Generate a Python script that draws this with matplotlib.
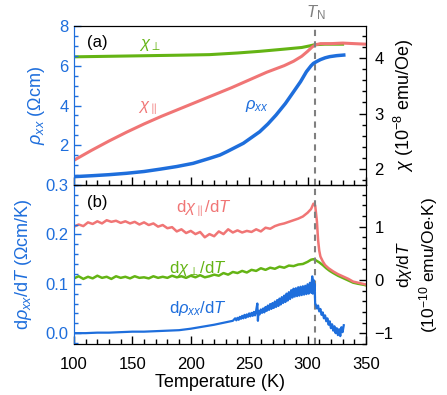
import matplotlib
matplotlib.use("Agg")
import matplotlib.pyplot as plt
from matplotlib.ticker import MultipleLocator

plt.rcParams['font.family'] = ['Liberation Sans', 'DejaVu Sans']
plt.rcParams['mathtext.fontset'] = 'custom'
plt.rcParams['mathtext.rm'] = 'Liberation Sans'
plt.rcParams['mathtext.it'] = 'Liberation Sans:italic'
plt.rcParams['font.size'] = 12

BLUE = '#1e6edc'
RED = '#f07575'
GREEN = '#64b414'
GRAY = '#808080'
T_N = 306
LABEL_SIZE = 13

# panel (a): resistivity (left axis) and susceptibility (right axis)
rho_T = [100, 116, 130, 145, 160, 174, 188, 202, 216, 225, 231, 245, 259, 266, 273, 281, 288, 294, 299, 303, 305, 308, 311, 315, 319, 325, 331]
rho = [0.42, 0.47, 0.52, 0.59, 0.68, 0.80, 0.93, 1.09, 1.34, 1.51, 1.68, 2.10, 2.68, 3.07, 3.52, 4.10, 4.69, 5.20, 5.70, 6.00, 6.12, 6.22, 6.31, 6.40, 6.46, 6.51, 6.54]

chi_perp_T = [100, 130, 160, 190, 216, 240, 259, 280, 295, 302, 306, 315, 330]
chi_perp = [4.03, 4.04, 4.05, 4.06, 4.07, 4.10, 4.13, 4.17, 4.20, 4.23, 4.25, 4.26, 4.26]

chi_par_T = [100, 115, 130, 145, 160, 175, 190, 205, 220, 235, 250, 265, 280, 288, 295, 300, 304, 307, 311, 315, 320, 330, 340, 350]
chi_par = [2.15, 2.33, 2.50, 2.66, 2.81, 2.95, 3.08, 3.21, 3.34, 3.47, 3.61, 3.75, 3.87, 3.95, 4.04, 4.13, 4.21, 4.25, 4.27, 4.27, 4.27, 4.28, 4.27, 4.26]

# panel (b): derivatives
dchi_par_T = [100, 104, 108, 112, 116, 120, 124, 128, 132, 136, 140, 144, 148, 152, 156, 160, 164, 168,
              172, 176, 180, 184, 188, 192, 196, 200, 204, 208, 212, 216, 220, 224, 228, 232, 236, 240,
              244, 248, 252, 256, 260, 264, 268, 272, 276, 280, 284, 288, 292, 296, 300, 303, 305, 306.5,
              308, 309, 310, 311, 313, 315, 318, 322, 326, 331, 335, 339, 343, 348, 350]
dchi_par = [1.00, 1.04, 1.01, 1.08, 1.05, 1.10, 1.06, 1.12, 1.09, 1.11, 1.07, 1.10, 1.06, 1.09, 1.04, 1.08, 1.03, 1.06,
            1.00, 1.03, 0.97, 0.99, 0.91, 0.95, 0.88, 0.92, 0.86, 0.90, 0.80, 0.86, 0.82, 0.91, 0.86, 0.95, 0.89, 0.93,
            0.89, 0.92, 0.90, 0.95, 0.91, 0.98, 0.96, 1.01, 1.04, 1.06, 1.09, 1.12, 1.15, 1.19, 1.26, 1.33, 1.43, 1.40,
            1.10, 0.75, 0.55, 0.44, 0.35, 0.28, 0.22, 0.16, 0.11, 0.06, 0.02, -0.03, -0.05, -0.075, -0.085]

dchi_perp_T = [100, 104, 108, 112, 116, 120, 124, 128, 132, 136, 140, 144, 148, 152, 156, 160, 164, 168,
               172, 176, 180, 184, 188, 192, 196, 200, 204, 208, 212, 216, 220, 224, 228, 232, 236, 240,
               244, 248, 252, 256, 260, 264, 268, 272, 276, 280, 284, 288, 292, 296, 300, 303, 305, 307,
               310, 313, 316, 319, 322, 326, 331, 335, 339, 343, 348, 350]
dchi_perp = [0.03, 0.07, 0.02, 0.06, 0.03, 0.08, 0.04, 0.06, 0.02, 0.07, 0.04, 0.06, 0.03, 0.07, 0.04, 0.05, 0.03, 0.07,
             0.04, 0.06, 0.04, 0.08, 0.05, 0.07, 0.04, 0.08, 0.05, 0.09, 0.05, 0.07, 0.10, 0.08, 0.13, 0.10, 0.15, 0.13,
             0.17, 0.14, 0.19, 0.17, 0.22, 0.19, 0.23, 0.21, 0.25, 0.23, 0.27, 0.26, 0.29, 0.30, 0.34, 0.38, 0.39, 0.37,
             0.33, 0.28, 0.22, 0.17, 0.13, 0.08, 0.03, -0.01, -0.05, -0.07, -0.09, -0.10]

drho_T = [100, 110, 120, 130, 140, 150, 160, 170, 180, 190, 200, 210, 220, 230, 236,
          238, 239, 240, 241, 242, 243, 244, 245, 246, 247, 248, 249, 250, 251, 252, 253, 254, 255, 256, 257, 257.5,
          258, 259, 260, 261, 262, 263, 264, 265, 266, 267, 268, 269, 270, 271, 272, 273, 274, 275, 276, 277,
          278, 279, 280, 281, 282, 283, 284, 285, 286, 287, 288, 289, 290, 291, 292, 293, 294, 295, 296, 297,
          298, 299, 300, 301, 302, 303, 304, 304.5, 305, 305.5, 306, 306.5, 307, 308, 309, 310, 311, 312, 313,
          314, 315, 316, 317, 318, 319, 320, 321, 322, 323, 324, 325, 326, 327, 328, 329, 330, 331]
drho = [0.000, 0.000, 0.001, 0.001, 0.002, 0.003, 0.003, 0.004, 0.005, 0.006, 0.009, 0.013, 0.017, 0.022, 0.025,
        0.030, 0.026, 0.031, 0.027, 0.033, 0.029, 0.035, 0.030, 0.037, 0.031, 0.038, 0.033, 0.040, 0.034, 0.041, 0.035, 0.043, 0.036, 0.046, 0.060, 0.025,
        0.045, 0.038, 0.048, 0.041, 0.050, 0.042, 0.053, 0.045, 0.056, 0.047, 0.059, 0.049, 0.061, 0.051, 0.064, 0.053, 0.067, 0.055, 0.070, 0.058,
        0.073, 0.061, 0.076, 0.063, 0.080, 0.066, 0.083, 0.069, 0.087, 0.072, 0.090, 0.074, 0.091, 0.075, 0.093, 0.076, 0.094, 0.077, 0.095, 0.078,
        0.096, 0.079, 0.099, 0.080, 0.102, 0.082, 0.115, 0.080, 0.108, 0.085, 0.100, 0.060, 0.058, 0.050, 0.056, 0.044, 0.049, 0.037, 0.042,
        0.030, 0.036, 0.024, 0.030, 0.017, 0.024, 0.010, 0.018, 0.005, 0.014, 0.000, 0.010, -0.004, 0.008, -0.006, 0.012, 0.002, 0.016]

fig = plt.figure(figsize=(4.47, 3.95), dpi=100)
ax_a = fig.add_axes([0.1655, 0.5316, 0.6532, 0.4025])
ax_b = fig.add_axes([0.1655, 0.1291, 0.6532, 0.4025])
ax_a2 = ax_a.twinx()
ax_b2 = ax_b.twinx()


def style_left(ax):
    ax.spines['left'].set_color(BLUE)
    ax.tick_params(axis='y', which='both', colors=BLUE, direction='in')
    ax.tick_params(axis='y', which='major', length=5, width=1, pad=4)
    ax.tick_params(axis='y', which='minor', length=3, width=1)
    ax.tick_params(axis='x', which='both', direction='in', top=False, width=1)
    ax.tick_params(axis='x', which='major', length=6, pad=9)
    ax.tick_params(axis='x', which='minor', length=3.5)
    ax.xaxis.set_minor_locator(MultipleLocator(10))
    ax.set_xlim(100, 350)
    ax.axvline(T_N, color=GRAY, ls=(0, (3, 2.5)), lw=1.5, zorder=0)


def style_right(ax):
    ax.spines['left'].set_color(BLUE)
    ax.tick_params(axis='y', which='both', direction='in', colors='black')
    ax.tick_params(axis='y', which='major', length=5, width=1, pad=6)
    ax.tick_params(axis='y', which='minor', length=3, width=1)


# panel (a)
style_left(ax_a)
style_right(ax_a2)
ax_a2.plot(chi_perp_T, chi_perp, color=GREEN, lw=2.2)
ax_a2.plot(chi_par_T, chi_par, color=RED, lw=2.2)
ax_a.plot(rho_T, rho, color=BLUE, lw=2.5)
ax_a.set_zorder(ax_a2.get_zorder() + 1)
ax_a.patch.set_visible(False)
ax_a.set_ylim(0, 8)
ax_a.set_yticks([2, 4, 6, 8])
ax_a.yaxis.set_minor_locator(MultipleLocator(0.5))
ax_a2.set_ylim(1.70, 4.59)
ax_a2.set_yticks([2, 3, 4])
ax_a2.yaxis.set_minor_locator(MultipleLocator(0.2))
ax_a.set_xticks(range(100, 351, 50))
ax_a.tick_params(axis='x', labelbottom=False)
ax_a.set_ylabel(r'$\rho_{xx}$ ($\Omega$cm)', color=BLUE, fontsize=LABEL_SIZE, labelpad=9)
ax_a2.set_ylabel(r'$\chi$ (10$^{-8}$ emu/Oe)', fontsize=LABEL_SIZE, labelpad=6)
ax_a.text(0.045, 0.865, '(a)', transform=ax_a.transAxes)
ax_a.text(165, 6.9, r'$\chi_{\perp}$', color=GREEN, ha='center')
ax_a.text(163, 3.75, r'$\chi_{\parallel}$', color=RED, ha='center')
ax_a.text(257, 3.85, r'$\rho_{xx}$', color=BLUE, ha='center')
fig.text(316 / 447, 1 - 13 / 395, r'$T_{\rm N}$', color=GRAY, ha='center', va='center')

# panel (b)
style_left(ax_b)
style_right(ax_b2)
ax_b2.plot(dchi_perp_T, dchi_perp, color=GREEN, lw=1.8)
ax_b2.plot(dchi_par_T, dchi_par, color=RED, lw=1.8)
ax_b.plot(drho_T, drho, color=BLUE, lw=1.6)
ax_b.set_zorder(ax_b2.get_zorder() + 1)
ax_b.patch.set_visible(False)
ax_b.set_ylim(-0.022, 0.3)
ax_b.set_yticks([0.0, 0.1, 0.2, 0.3])
ax_b.set_yticklabels(['0.0', '0.1', '0.2', '0.3'])
ax_b.yaxis.set_minor_locator(MultipleLocator(0.02))
ax_b2.set_ylim(-1.2, 1.78)
ax_b2.set_yticks([-1, 0, 1])
ax_b2.set_yticklabels(['\u22121', '0', '1'])
ax_b2.yaxis.set_minor_locator(MultipleLocator(0.2))
ax_b.set_xticks(range(100, 351, 50))
ax_b.set_xlabel('Temperature (K)', fontsize=LABEL_SIZE, labelpad=2)
ax_b.set_ylabel(r'd$\rho_{xx}$/d$T$ ($\Omega$cm/K)', color=BLUE, fontsize=LABEL_SIZE, labelpad=8)
ax_b2.set_ylabel('d$\\chi$/d$T$\n(10$^{-10}$ emu/Oe$\\cdot$K)', fontsize=12.5, labelpad=1, linespacing=1.2)
ax_b.text(0.045, 0.86, '(b)', transform=ax_b.transAxes)
ax_b.text(211, 0.245, r'd$\chi_{\parallel}$/d$T$', color=RED, ha='center')
ax_b.text(206, 0.122, r'd$\chi_{\perp}$/d$T$', color=GREEN, ha='center')
ax_b.text(206, 0.041, r'd$\rho_{xx}$/d$T$', color=BLUE, ha='center')

fig.savefig('out.png', dpi=100)
